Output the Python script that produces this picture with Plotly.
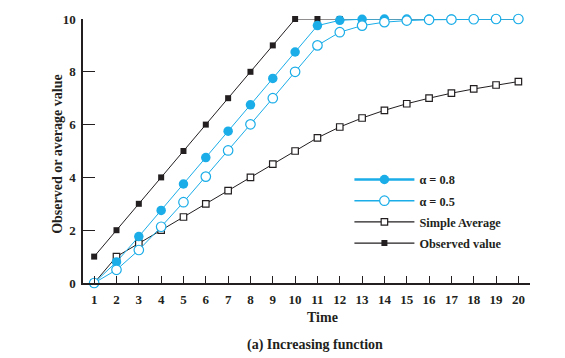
import plotly.graph_objects as go

time = list(range(1, 21))
observed = [1, 2, 3, 4, 5, 6, 7, 8, 9, 10, 10, 10, 10, 10, 10, 10, 10, 10, 10, 10]
simple_avg = [0, 1.0, 1.5, 2.0, 2.5, 3.0, 3.5, 4.0, 4.5, 5.0, 5.5, 5.91, 6.25, 6.54, 6.79, 7.0, 7.19, 7.35, 7.5, 7.63]
alpha08 = [0, 0.8, 1.76, 2.75, 3.75, 4.75, 5.75, 6.75, 7.75, 8.75, 9.75, 9.95, 9.99, 10.0, 10.0, 10.0, 10.0, 10.0, 10.0, 10.0]
alpha05 = [0, 0.5, 1.25, 2.13, 3.06, 4.03, 5.02, 6.01, 7.0, 8.0, 9.0, 9.5, 9.75, 9.88, 9.94, 9.97, 9.98, 9.99, 10.0, 10.0]
x_ticks = list(range(1, 21))
y_ticks = [0, 2, 4, 6, 8, 10]

BLUE = "#1AADE8"
DARK = "#231F20"
FONT = "Liberation Serif"

series = [
    # name, values, marker symbol, marker size, filled, color, legend line width, rank
    ("Observed value", observed, "square", 6, True, DARK, 1.2, 4),
    ("Simple Average", simple_avg, "square", 6.5, False, DARK, 1.2, 3),
    ("\u03b1 = 0.8", alpha08, "circle", 9.5, True, BLUE, 2.6, 1),
    ("\u03b1 = 0.5", alpha05, "circle", 9.5, False, BLUE, 1.6, 2),
]

fig = go.Figure()
for name, vals, sym, size, filled, color, lw, rank in series:
    marker = dict(symbol=sym, size=size,
                  color=color if filled else "white",
                  line=dict(width=0) if filled else dict(color=color, width=1.2))
    fig.add_trace(go.Scatter(
        x=time, y=vals, name=name, mode="lines+markers",
        line=dict(color=color, width=1), marker=marker,
        showlegend=False, cliponaxis=False))
for name, vals, sym, size, filled, color, lw, rank in series:
    marker = dict(symbol=sym, size=size,
                  color=color if filled else "white",
                  line=dict(width=0) if filled else dict(color=color, width=1.2))
    # legend entry only (no data points), with the legend's own line weight
    fig.add_trace(go.Scatter(
        x=[None], y=[None], name=name, mode="lines+markers",
        line=dict(color=color, width=lw), marker=marker,
        legendrank=rank, legendgroup="g%d" % rank, showlegend=True))

# page body has an 8px margin, so the figure is 8px smaller and margins shifted by 8
fig.update_layout(
    width=557, height=350,
    margin=dict(l=75, r=35, t=11, b=75),
    paper_bgcolor="white", plot_bgcolor="white",
    font=dict(family=FONT, size=12, color=DARK),
    showlegend=True,
    legend=dict(x=0.596, y=0.447, xanchor="left", yanchor="top",
                bgcolor="rgba(0,0,0,0)", itemwidth=60, tracegroupgap=2.2,
                font=dict(family=FONT, size=12.3, color=DARK, weight="bold")),
    xaxis=dict(range=[0.5, 20.52], tickvals=x_ticks, showline=True, linecolor=DARK,
               linewidth=1.5, ticks="inside", ticklen=7, tickwidth=1.2, tickcolor=DARK,
               showgrid=False, zeroline=False, automargin=False, ticklabelstandoff=4,
               tickfont=dict(family=FONT, size=13, color=DARK, weight="bold")),
    yaxis=dict(range=[0, 10], tickvals=y_ticks, showline=True, linecolor=DARK,
               linewidth=1.5, ticks="inside", ticklen=12, tickwidth=1.2, tickcolor=DARK,
               showgrid=False, zeroline=False, automargin=False, ticklabelstandoff=3,
               tickfont=dict(family=FONT, size=13, color=DARK, weight="bold")),
    annotations=[
        dict(text="Time", xref="paper", yref="paper", x=0.536, y=-0.131,
             xanchor="center", yanchor="middle", showarrow=False,
             font=dict(family=FONT, size=14, color=DARK, weight="bold")),
        dict(text="Observed or average value", xref="paper", yref="paper",
             x=-0.056, y=0.489, xanchor="center", yanchor="middle", textangle=-90,
             showarrow=False,
             font=dict(family=FONT, size=14, color=DARK, weight="bold")),
        dict(text="(a) Increasing function", xref="paper", yref="paper",
             x=0.52, y=-0.233, xanchor="center", yanchor="middle", showarrow=False,
             font=dict(family=FONT, size=14, color=DARK, weight="bold")),
    ],
)

fig.write_html("out.html")
